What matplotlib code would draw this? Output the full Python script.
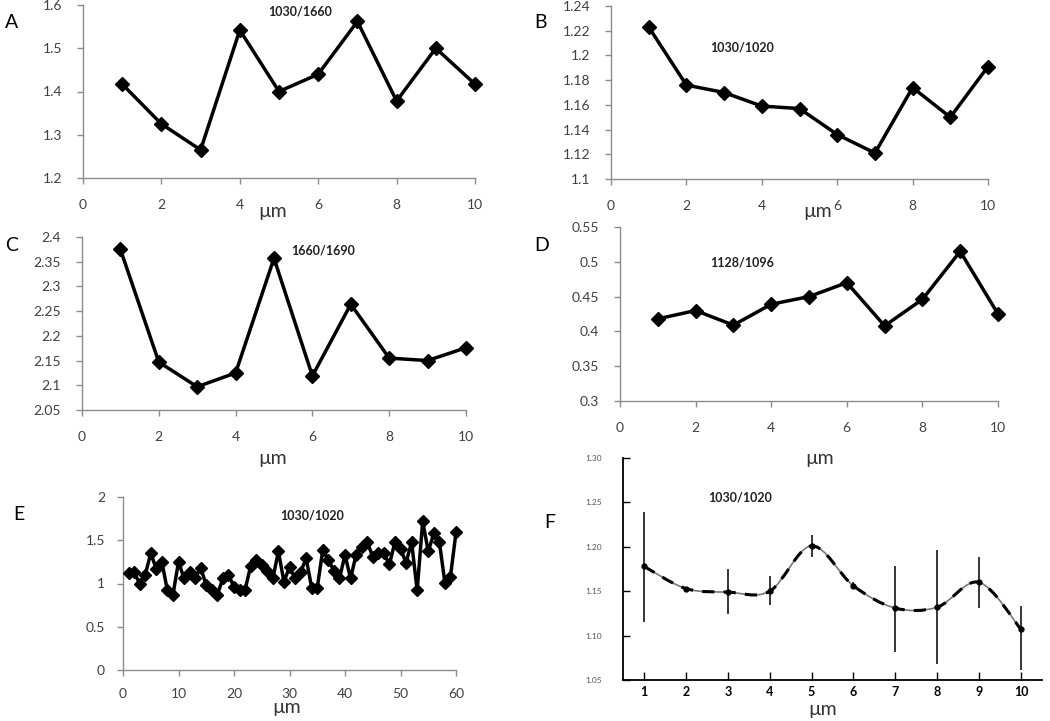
import numpy as np
import matplotlib
matplotlib.use("Agg")
import matplotlib.pyplot as plt
from matplotlib.path import Path
from matplotlib.patches import PathPatch
from matplotlib.ticker import FuncFormatter, MultipleLocator

plt.rcParams['font.family'] = ['Lato', 'DejaVu Sans']

# datos
x10 = [1, 2, 3, 4, 5, 6, 7, 8, 9, 10]
a_vals = [1.417, 1.325, 1.265, 1.542, 1.400, 1.440, 1.562, 1.378, 1.500, 1.417]
b_vals = [1.223, 1.176, 1.170, 1.159, 1.157, 1.136, 1.121, 1.174, 1.150, 1.191]
c_vals = [2.375, 2.147, 2.097, 2.125, 2.357, 2.119, 2.264, 2.155, 2.150, 2.176]
d_vals = [0.418, 0.430, 0.409, 0.439, 0.450, 0.470, 0.408, 0.446, 0.515, 0.425]

x60 = list(range(1, 61))
e_vals = [1.12, 1.13, 1.00, 1.10, 1.35, 1.17, 1.25, 0.92, 0.87, 1.25,
          1.06, 1.13, 1.06, 1.18, 0.98, 0.92, 0.87, 1.06, 1.10, 0.96,
          0.92, 0.93, 1.20, 1.27, 1.21, 1.15, 1.06, 1.37, 1.02, 1.19,
          1.06, 1.13, 1.29, 0.95, 0.95, 1.39, 1.27, 1.15, 1.06, 1.33,
          1.06, 1.33, 1.42, 1.48, 1.31, 1.35, 1.35, 1.22, 1.48, 1.40,
          1.24, 1.48, 0.92, 1.72, 1.37, 1.58, 1.48, 1.01, 1.08, 1.59]

f_mean = [1.178, 1.153, 1.149, 1.150, 1.201, 1.156, 1.131, 1.132, 1.160, 1.107]
f_err_lo = [0.063, 0.0, 0.025, 0.016, 0.012, 0.004, 0.049, 0.064, 0.029, 0.046]
f_err_hi = [0.061, 0.0, 0.026, 0.017, 0.012, 0.004, 0.047, 0.064, 0.028, 0.026]

W, H = 1050, 721
fig = plt.figure(figsize=(W / 100, H / 100), dpi=100)


def caja(l, t, r, b):
    return fig.add_axes([l / W, 1 - b / H, (r - l) / W, (b - t) / H])


def texto(x, y, s, **kw):
    fig.text(x / W, 1 - y / H, s, ha='center', va='center', **kw)


def estilo_excel(ax, xlim, ylim, xstep, ystep):
    ax.set_xlim(*xlim)
    ax.set_ylim(*ylim)
    ax.xaxis.set_major_locator(MultipleLocator(xstep))
    ax.yaxis.set_major_locator(MultipleLocator(ystep))
    fmt = FuncFormatter(lambda v, p: f"{round(v, 4):g}")
    ax.xaxis.set_major_formatter(fmt)
    ax.yaxis.set_major_formatter(fmt)
    for s in ['top', 'right']:
        ax.spines[s].set_visible(False)
    for s in ['left', 'bottom']:
        ax.spines[s].set_color('#8c8c8c')
        ax.spines[s].set_linewidth(1.0)
    ax.tick_params(direction='out', length=4, width=1, color='#8c8c8c',
                   labelsize=10, labelcolor='#404040', pad=11)
    ax.patch.set_alpha(0)


def linea(ax, x, y, ms=7.5):
    ax.plot(x, y, color='black', lw=2.5, marker='D', ms=ms, mec='black',
            mfc='black', clip_on=False, zorder=3)


# A
ax = caja(83, 5, 475, 178)
estilo_excel(ax, (0, 10), (1.2, 1.6), 2, 0.1)
linea(ax, x10, a_vals)
texto(12, 23, "A", fontsize=14)
texto(300, 12, "1030/1660", fontsize=9, fontweight='bold', color='#222222')
texto(273, 212, "\u00b5m", fontsize=14, color='#333333')

# B
ax = caja(611, 6, 988, 179)
estilo_excel(ax, (0, 10), (1.1, 1.24), 2, 0.02)
linea(ax, x10, b_vals)
texto(540, 23, "B", fontsize=14)
texto(742, 48, "1030/1020", fontsize=9, fontweight='bold', color='#222222')
texto(818, 211, "\u00b5m", fontsize=14, color='#333333')

# C
ax = caja(82, 237, 466, 410)
estilo_excel(ax, (0, 10), (2.05, 2.4), 2, 0.05)
linea(ax, x10, c_vals)
texto(12, 245, "C", fontsize=14)
texto(323, 250, "1660/1690", fontsize=9, fontweight='bold', color='#222222')
texto(273, 458, "\u00b5m", fontsize=14, color='#333333')

# D
ax = caja(620, 227, 998, 401)
estilo_excel(ax, (0, 10), (0.3, 0.55), 2, 0.05)
linea(ax, x10, d_vals)
texto(542, 245, "D", fontsize=14)
texto(742, 262, "1128/1096", fontsize=9, fontweight='bold', color='#222222')
texto(820, 458, "\u00b5m", fontsize=14, color='#333333')

# E
ax = caja(123, 497, 456, 670)
estilo_excel(ax, (0, 60), (0, 2), 10, 0.5)
ax.tick_params(pad=9)
linea(ax, x60, e_vals, ms=6.5)
texto(19, 515, "E", fontsize=14)
texto(312, 515, "1030/1020", fontsize=9, fontweight='bold', color='#222222')
texto(287, 707, "\u00b5m", fontsize=14, color='#333333')

# F
ax = caja(623, 458, 1042, 680)
ax.set_xlim(0.5, 10.5)
ax.set_ylim(1.05, 1.30)
ax.set_xticks(x10)
ax.yaxis.set_major_locator(MultipleLocator(0.05))
ax.yaxis.set_major_formatter(FuncFormatter(lambda v, p: f"{v:.2f}"))
for s in ['top', 'right']:
    ax.spines[s].set_visible(False)
for s in ['left', 'bottom']:
    ax.spines[s].set_linewidth(1.3)
ax.tick_params(axis='x', direction='in', length=6, width=1, labelsize=9, pad=4)
ax.tick_params(axis='y', direction='in', length=5, width=1, labelsize=6,
               labelcolor='#555555', pad=15)
for lbl in ax.get_xticklabels():
    lbl.set_fontweight('bold')
ax.patch.set_alpha(0)

# curva suavizada (Catmull-Rom -> Bezier) a traves de los puntos medidos
pts = np.column_stack([x10, f_mean])
verts = [pts[0]]
codes = [Path.MOVETO]
n = len(pts)
for i in range(n - 1):
    p0 = pts[max(i - 1, 0)]
    p1 = pts[i]
    p2 = pts[i + 1]
    p3 = pts[min(i + 2, n - 1)]
    verts += [p1 + (p2 - p0) / 6, p2 - (p3 - p1) / 6, p2]
    codes += [Path.CURVE4] * 3
curva = Path(verts, codes)
ax.add_patch(PathPatch(curva, fill=False, ec='#777777', lw=1.2, zorder=2))
ax.add_patch(PathPatch(curva, fill=False, ec='black', lw=2.2, ls=(0, (4, 3)), zorder=3))
ax.errorbar(x10, f_mean, yerr=[f_err_lo, f_err_hi], fmt='none', ecolor='black',
            elinewidth=1.1, capsize=0, zorder=4)
ax.plot(x10, f_mean, 'o', color='black', ms=3.5, zorder=5)
texto(550, 523, "F", fontsize=14)
texto(740, 497, "1030/1020", fontsize=9, fontweight='bold', color='#222222')
texto(823, 710, "\u00b5m", fontsize=14, color='#333333')

fig.savefig("out.png", dpi=100)
